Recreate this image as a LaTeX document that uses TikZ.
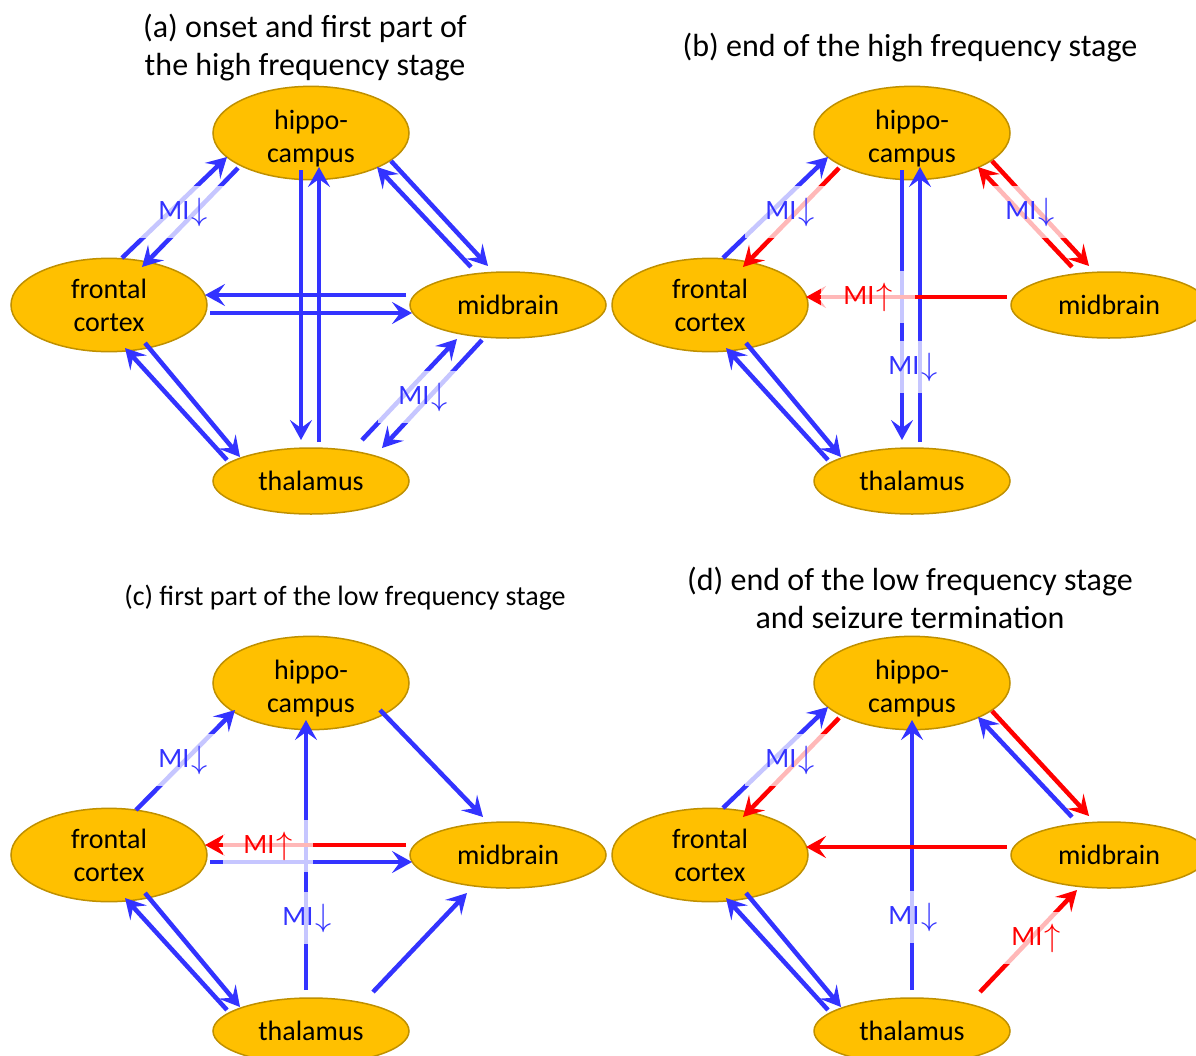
\documentclass[tikz,border=0pt]{standalone}
\usepackage{fontspec}
\setmainfont{Carlito}
\usetikzlibrary{arrows.meta,calc,shapes.geometric}
\definecolor{eblue}{HTML}{3333FF}
\definecolor{ered}{HTML}{FF0000}
\definecolor{efill}{HTML}{FFC000}
\definecolor{edraw}{HTML}{BF9000}
\tikzset{
  region/.style={ellipse, fill=efill, draw=edraw, line width=1.5pt, minimum width=196pt, minimum height=66pt, inner sep=0pt, align=center, font=\fontsize{28}{33}\selectfont},
  barr/.style={-{Stealth[length=20pt,width=22pt,inset=8pt]}, line width=4.5pt, draw=eblue},
  rarr/.style={-{Stealth[length=20pt,width=22pt,inset=8pt]}, line width=4.5pt, draw=ered},
  lab/.style={fill=white, fill opacity=0.72, text opacity=1, minimum width=90pt, minimum height=52pt, inner sep=0pt, font=\fontsize{28}{28}\selectfont},
  blab/.style={lab, text=eblue},
  rlab/.style={lab, text=ered},
  ttl/.style={font=\fontsize{32}{38}\selectfont, align=center}
}
\newcommand{\MIdn}{MI\kern2pt\raisebox{-1pt}{\scalebox{1.3}{$\downarrow$}}}
\newcommand{\MIup}{MI\kern2pt\raisebox{-1pt}{\scalebox{1.3}{$\uparrow$}}}
\newcommand{\twol}[3]{\raisebox{#1}[\height][\depth]{\begin{tabular}{@{}c@{}}#2\\#3\end{tabular}}}
\begin{document}
\begin{tikzpicture}[x=1pt,y=-1pt]
\useasboundingbox (0,0) rectangle (1196,1055);
% ---------- titles
\node[ttl] (ta) at (305,48) {(a) onset and first part of\\the high frequency stage};
\node[ttl] (tb) at (910,48) {(b) end of the high frequency stage};
\node[ttl, font=\fontsize{28}{38}\selectfont] (tc) at (345,598) {(c) first part of the low frequency stage};
\node[ttl] (td) at (910,598) {(d) end of the low frequency stage\\and seizure termination};
% ---------- panel (a)
\begin{scope}
\node[region] (ha) at (311,133) {\twol{-6pt}{hippo-}{campus}};
\node[region] (fa) at (109,305) {\twol{-3pt}{frontal}{cortex}};
\node[region] (ma) at (508,305) {midbrain};
\node[region] (ta2) at (311,481) {thalamus};
\draw[barr] ($(fa)+(13,-47)$) -- ($(ha)+(-84,24)$);
\draw[barr] ($(ha)+(-73,35)$) -- ($(fa)+(33,-38)$);
\draw[barr] ($(ha)+(-10,37)$) -- ($(ta2)+(-10,-41)$);
\draw[barr] ($(ta2)+(8,-39)$) -- ($(ha)+(8,34)$);
\draw[barr] ($(ha)+(80,28)$) -- ($(ma)+(-20,-39)$);
\draw[barr] ($(ma)+(-37,-38)$) -- ($(ha)+(66,34)$);
\draw[barr] ($(ma)+(-102,-10)$) -- ($(fa)+(96,-10)$);
\draw[barr] ($(fa)+(101,8)$) -- ($(ma)+(-96,8)$);
\draw[barr] ($(fa)+(36,38)$) -- ($(ta2)+(-71,-24)$);
\draw[barr] ($(ta2)+(-84,-21)$) -- ($(fa)+(16,43)$);
\draw[barr] ($(ta2)+(51,-41)$) -- ($(ma)+(-51,34)$);
\draw[barr] ($(ma)+(-26,35)$) -- ($(ta2)+(71,-33)$);
\node[blab] (la1) at (183,212) {\MIdn};
\node[blab] (la2) at (423,397) {\MIdn};
\end{scope}
% ---------- panel (b)
\begin{scope}[shift={(601,0)}]
\node[region] (hb) at (311,133) {\twol{-6pt}{hippo-}{campus}};
\node[region] (fb) at (109,305) {\twol{-3pt}{frontal}{cortex}};
\node[region] (mb) at (508,305) {midbrain};
\node[region] (tb2) at (311,481) {thalamus};
\draw[barr] ($(fb)+(13,-47)$) -- ($(hb)+(-84,24)$);
\draw[rarr] ($(hb)+(-73,35)$) -- ($(fb)+(33,-38)$);
\draw[barr] ($(hb)+(-10,37)$) -- ($(tb2)+(-10,-41)$);
\draw[barr] ($(tb2)+(8,-39)$) -- ($(hb)+(8,34)$);
\draw[rarr] ($(hb)+(80,28)$) -- ($(mb)+(-20,-39)$);
\draw[rarr] ($(mb)+(-37,-38)$) -- ($(hb)+(66,34)$);
\draw[rarr] ($(mb)+(-102,-8)$) -- ($(fb)+(96,-8)$);
\draw[barr] ($(fb)+(36,38)$) -- ($(tb2)+(-71,-24)$);
\draw[barr] ($(tb2)+(-84,-21)$) -- ($(fb)+(16,43)$);
\node[blab] (lb1) at (189,212) {\MIdn};
\node[blab] (lb2) at (429,212) {\MIdn};
\node[rlab, minimum width=94pt] (lb3) at (267,297) {\MIup};
\node[blab] (lb4) at (312,367) {\MIdn};
\end{scope}
% ---------- panel (c)
\begin{scope}[shift={(0,550)}]
\node[region] (hc) at (311,133) {\twol{-6pt}{hippo-}{campus}};
\node[region] (fc) at (109,305) {\twol{-3pt}{frontal}{cortex}};
\node[region] (mc) at (508,305) {midbrain};
\node[region] (tc2) at (311,481) {thalamus};
\draw[barr] ($(fc)+(27,-45)$) -- ($(hc)+(-76,27)$);
\draw[barr] ($(tc2)+(-5,-41)$) -- ($(hc)+(-5,37)$);
\draw[barr] ($(hc)+(69,27)$) -- ($(mc)+(-25,-38)$);
\draw[rarr] ($(mc)+(-102,-10)$) -- ($(fc)+(96,-10)$);
\draw[barr] ($(fc)+(101,7)$) -- ($(mc)+(-96,7)$);
\draw[barr] ($(fc)+(36,38)$) -- ($(tc2)+(-71,-24)$);
\draw[barr] ($(tc2)+(-84,-21)$) -- ($(fc)+(16,43)$);
\draw[barr] ($(tc2)+(62,-39)$) -- ($(mc)+(-41,38)$);
\node[blab] (lc1) at (183,210) {\MIdn};
\node[rlab] (lc2) at (268,296) {\MIup};
\node[blab] (lc3) at (307,368) {\MIdn};
\end{scope}
% ---------- panel (d)
\begin{scope}[shift={(601,550)}]
\node[region] (hd) at (311,133) {\twol{-6pt}{hippo-}{campus}};
\node[region] (fd) at (109,305) {\twol{-3pt}{frontal}{cortex}};
\node[region] (md) at (508,305) {midbrain};
\node[region] (td2) at (311,481) {thalamus};
\draw[barr] ($(fd)+(13,-47)$) -- ($(hd)+(-84,24)$);
\draw[rarr] ($(hd)+(-73,35)$) -- ($(fd)+(33,-38)$);
\draw[barr] ($(td2)+(0,-41)$) -- ($(hd)+(0,37)$);
\draw[rarr] ($(hd)+(80,28)$) -- ($(md)+(-20,-39)$);
\draw[barr] ($(md)+(-37,-38)$) -- ($(hd)+(66,34)$);
\draw[rarr] ($(md)+(-102,-8)$) -- ($(fd)+(96,-8)$);
\draw[barr] ($(fd)+(36,38)$) -- ($(td2)+(-71,-24)$);
\draw[barr] ($(td2)+(-84,-21)$) -- ($(fd)+(16,43)$);
\draw[rarr] ($(td2)+(68,-39)$) -- ($(md)+(-32,35)$);
\node[blab] (ld1) at (189,210) {\MIdn};
\node[blab] (ld2) at (312,367) {\MIdn};
\node[rlab] (ld3) at (435,388) {\MIup};
\end{scope}
\end{tikzpicture}
\end{document}
